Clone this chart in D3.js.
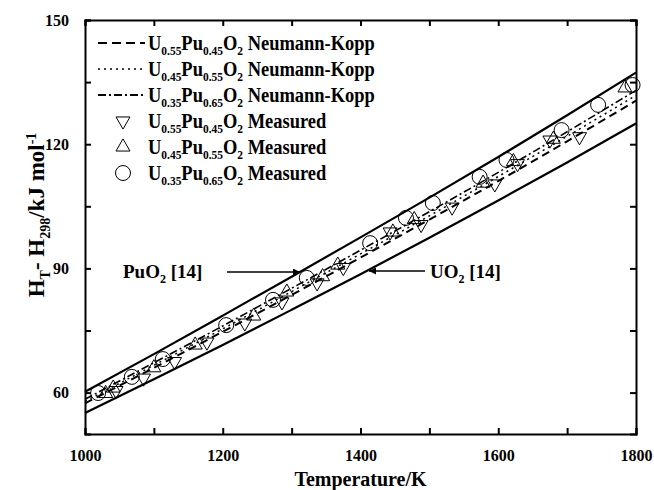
<!DOCTYPE html>
<html>
<head>
<meta charset="utf-8">
<script src="https://cdn.jsdelivr.net/npm/d3@7"></script>
<style>
  body { margin: 0; background: #fff; }
  text { font-family: "Liberation Serif", "Times New Roman", serif; font-weight: bold; fill: #000; }
  .axis path, .axis line { stroke: #000; stroke-width: 2; }
  .axis text { font-size: 16px; }
</style>
</head>
<body>
<div id="chart"></div>
<script>
// literature curves and Neumann-Kopp estimates, kJ/mol
var temps = [1000, 1100, 1200, 1300, 1400, 1500, 1600, 1700, 1800];
var uo2Lit = [55.1, 63.2, 71.5, 80.0, 88.6, 97.4, 106.4, 115.6, 125.0];
var puo2Lit = [60.2, 69.3, 78.6, 88.0, 97.5, 107.1, 116.9, 127.0, 137.3];
var nk55 = [57.4, 66.0, 74.7, 83.6, 92.6, 101.8, 111.1, 120.7, 130.5];
var nk45 = [57.9, 66.6, 75.4, 84.4, 93.5, 102.7, 112.2, 121.9, 131.8];
var nk35 = [58.4, 67.2, 76.1, 85.2, 94.4, 103.7, 113.2, 123.0, 133.0];

// measured points
var meas55T = [1045, 1085, 1130, 1177, 1232, 1286, 1337, 1375, 1443, 1488, 1533, 1595, 1628, 1675, 1718];
var meas55H = [60.5, 63.5, 67.5, 72.2, 76.8, 81.9, 86.5, 90.2, 98.8, 100.6, 104.8, 110.4, 115.3, 121.0, 121.8];
var meas45T = [1030, 1041, 1100, 1160, 1245, 1293, 1345, 1367, 1447, 1478, 1578, 1622, 1680, 1784];
var meas45H = [59.8, 61.1, 66.0, 71.5, 78.5, 84.3, 88.0, 90.8, 98.8, 101.8, 110.6, 115.8, 121.2, 133.6];
var meas35T = [1019, 1068, 1113, 1205, 1273, 1322, 1414, 1466, 1505, 1573, 1612, 1692, 1745, 1795];
var meas35H = [59.9, 63.8, 68.1, 76.3, 82.4, 87.7, 96.1, 102.2, 105.8, 112.1, 116.2, 123.4, 129.5, 134.3];

var xTicks = [1000, 1100, 1200, 1300, 1400, 1500, 1600, 1700, 1800];
var yTicks = [60, 75, 90, 105, 120, 135, 150];

var margin = {top: 20, right: 18, bottom: 56, left: 85},
    width = 654 - margin.left - margin.right,
    height = 490 - margin.top - margin.bottom;

var x = d3.scaleLinear().domain([1000, 1800]).range([0, width]);
var y = d3.scaleLinear().domain([50, 150]).range([height, 0]);

var svg = d3.select("#chart")
    .append("svg")
    .attr("width", 654)
    .attr("height", 490)
    .append("g")
    .attr("transform", "translate(" + margin.left + "," + margin.top + ")");

svg.append("defs").append("marker")
    .attr("id", "arrow")
    .attr("viewBox", "0 0 10 10")
    .attr("refX", 10).attr("refY", 5)
    .attr("markerWidth", 9).attr("markerHeight", 7)
    .attr("markerUnits", "userSpaceOnUse")
    .attr("orient", "auto")
    .append("path")
    .attr("d", "M0,0L10,5L0,10z")
    .attr("fill", "#000");

// axes, ticks inward on all four sides
svg.append("g").attr("class", "axis")
    .attr("transform", "translate(0," + height + ")")
    .call(d3.axisBottom(x).tickValues(xTicks).tickSize(-6).tickPadding(16)
        .tickFormat(function(d) { return d % 200 === 0 ? d : ""; }));
svg.append("g").attr("class", "axis")
    .call(d3.axisTop(x).tickValues(xTicks).tickSize(-6).tickFormat(""));
svg.append("g").attr("class", "axis")
    .call(d3.axisLeft(y).tickValues(yTicks).tickSize(-6).tickPadding(16)
        .tickFormat(function(d) { return d % 30 === 0 ? d : ""; }));
svg.append("g").attr("class", "axis")
    .attr("transform", "translate(" + width + ",0)")
    .call(d3.axisRight(y).tickValues(yTicks).tickSize(-6).tickFormat(""));

var line = d3.line()
    .curve(d3.curveMonotoneX)
    .x(function(d) { return x(d[0]); })
    .y(function(d) { return y(d[1]); });

function pairs(xs, ys) { return xs.map(function(t, i) { return [t, ys[i]]; }); }

var curves = [
  {vals: uo2Lit, dash: null, w: 2.2},
  {vals: puo2Lit, dash: null, w: 2.2},
  {vals: nk55, dash: "8,5", w: 2},
  {vals: nk45, dash: "2,4", w: 1.5},
  {vals: nk35, dash: "8,3,2,3", w: 1.6}
];

curves.forEach(function(c) {
  svg.append("path")
    .datum(pairs(temps, c.vals))
    .attr("d", line)
    .attr("fill", "none")
    .attr("stroke", "#000")
    .attr("stroke-width", c.w)
    .attr("stroke-dasharray", c.dash);
});

var tri = d3.symbol().type(d3.symbolTriangle).size(85)();

function drawPoints(xs, ys, kind) {
  pairs(xs, ys).forEach(function(p) {
    var g = svg.append("g")
      .attr("transform", "translate(" + x(p[0]) + "," + y(p[1]) + ")");
    if (kind === "circle") {
      g.append("circle").attr("r", 7.5);
    } else {
      g.append("path").attr("d", tri)
        .attr("transform", kind === "down" ? "rotate(180)" : null);
    }
    g.selectAll("*").attr("fill", "none").attr("stroke", "#000").attr("stroke-width", 1);
  });
}

drawPoints(meas55T, meas55H, "down");
drawPoints(meas45T, meas45H, "up");
drawPoints(meas35T, meas35H, "circle");

// legend
var legend = [
  {u: "0.55", pu: "0.45", label: "Neumann-Kopp", dash: "9,5", w: 2.2},
  {u: "0.45", pu: "0.55", label: "Neumann-Kopp", dash: "2,4", w: 1.5},
  {u: "0.35", pu: "0.65", label: "Neumann-Kopp", dash: "8,3,2,3", w: 1.8},
  {u: "0.55", pu: "0.45", label: "Measured", sym: "down"},
  {u: "0.45", pu: "0.55", label: "Measured", sym: "up"},
  {u: "0.35", pu: "0.65", label: "Measured", sym: "circle"}
];

legend.forEach(function(d, i) {
  var ly = 23 + i * 26;
  if (d.sym) {
    var g = svg.append("g").attr("transform", "translate(38," + ly + ")");
    if (d.sym === "circle") g.append("circle").attr("r", 7.5);
    else g.append("path").attr("d", tri).attr("transform", d.sym === "down" ? "rotate(180)" : null);
    g.selectAll("*").attr("fill", "none").attr("stroke", "#000").attr("stroke-width", 1);
  } else {
    svg.append("line")
      .attr("x1", 13).attr("x2", 60).attr("y1", ly).attr("y2", ly)
      .attr("stroke", "#000").attr("stroke-width", d.w)
      .attr("stroke-dasharray", d.dash);
  }
  var t = svg.append("g")
    .attr("transform", "translate(63," + (ly + 7) + ") scale(0.88,1)")
    .append("text").style("font-size", "21px");
  t.append("tspan").text("U");
  t.append("tspan").attr("dy", 5).style("font-size", "13px").text(d.u);
  t.append("tspan").attr("dy", -5).text("Pu");
  t.append("tspan").attr("dy", 5).style("font-size", "13px").text(d.pu);
  t.append("tspan").attr("dy", -5).text("O");
  t.append("tspan").attr("dy", 5).style("font-size", "13px").text("2");
  t.append("tspan").attr("dy", -5).text(" " + d.label);
});

// literature annotations
var ann = [
  {text: "Pu", tx: 123 - margin.left, ty: 278 - margin.top, x1: 227, x2: 300, ly: 272},
  {text: "U", tx: 430 - margin.left, ty: 278 - margin.top, x1: 425, x2: 369, ly: 271}
];
ann.forEach(function(a) {
  svg.append("line")
    .attr("x1", a.x1 - margin.left).attr("x2", a.x2 - margin.left)
    .attr("y1", a.ly - margin.top).attr("y2", a.ly - margin.top)
    .attr("stroke", "#000").attr("stroke-width", 1.3)
    .attr("marker-end", "url(#arrow)");
  var t = svg.append("text").attr("x", a.tx).attr("y", a.ty).style("font-size", "19px");
  t.append("tspan").text(a.text + "O");
  t.append("tspan").attr("dy", 5).style("font-size", "12px").text("2");
  t.append("tspan").attr("dy", -5).text(" [14]");
});

// axis titles
svg.append("text")
    .attr("x", width / 2).attr("y", height + 52)
    .attr("text-anchor", "middle")
    .style("font-size", "20px")
    .text("Temperature/K");

var yt = svg.append("text")
    .attr("transform", "translate(" + (44 - margin.left) + "," + (215 - margin.top) + ") rotate(-90)")
    .attr("text-anchor", "middle")
    .style("font-size", "23px");
yt.append("tspan").text("H");
yt.append("tspan").attr("dy", 6).style("font-size", "14px").text("T");
yt.append("tspan").attr("dy", -6).text("- H");
yt.append("tspan").attr("dy", 6).style("font-size", "14px").text("298");
yt.append("tspan").attr("dy", -6).text("/kJ mol");
yt.append("tspan").attr("dy", -8).style("font-size", "14px").text("-1");
</script>
</body>
</html>
